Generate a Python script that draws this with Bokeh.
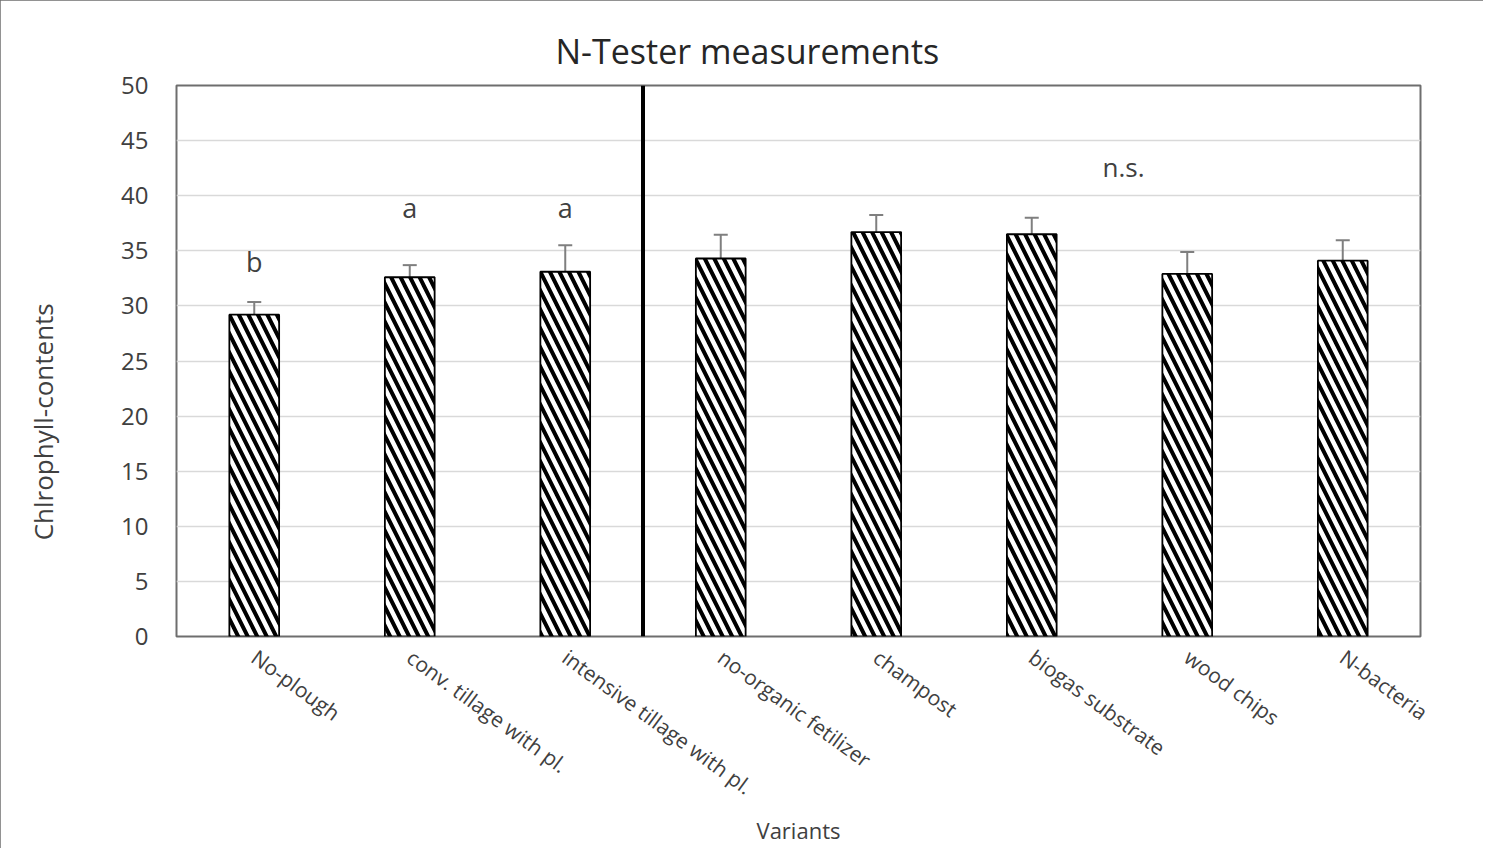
from bokeh.plotting import figure
from bokeh.models import (Range1d, FactorRange, Span, Label, ColumnDataSource,
                          Whisker, TeeHead, FixedTicker, Title)
from bokeh.embed import file_html
from bokeh.resources import INLINE
from bokeh.core.properties import value

# ---------------- data ----------------
categories = ["No-plough", "conv. tillage with pl.", "intensive tillage with pl.",
              "no-organic fetilizer", "champost", "biogas substrate",
              "wood chips", "N-bacteria"]
means = [29.2, 32.6, 33.1, 34.3, 36.7, 36.5, 32.9, 34.1]
errors = [1.15, 1.1, 2.4, 2.15, 1.55, 1.5, 2.0, 1.85]
letter_cats = ["No-plough", "conv. tillage with pl.", "intensive tillage with pl."]
letters = ["b", "a", "a"]
letter_y = [34.0, 38.9, 38.9]
ns_text = "n.s."
y_ticks = [0, 5, 10, 15, 20, 25, 30, 35, 40, 45, 50]

FONT = "Open Sans"
TXT = "#404040"

src = ColumnDataSource(dict(
    x=categories, top=means,
    upper=[m + e for m, e in zip(means, errors)],
    lower=[m - e for m, e in zip(means, errors)],
))

p = figure(width=1483, height=848, x_range=FactorRange(*categories, range_padding=0),
           y_range=Range1d(0, 50), output_backend="svg", toolbar_location=None,
           min_border_left=176, min_border_right=63, min_border_top=85,
           min_border_bottom=212)
p.styles = {"outline": "2px solid #6e6e6e", "outline-offset": "-2px"}

p.title = Title(text="N-Tester measurements", align="left", offset=379,
                text_font=FONT, text_font_size="34px", text_font_style="normal",
                text_color="#262626", standoff=23)

p.outline_line_color = "#6e6e6e"
p.outline_line_width = 2
p.xgrid.grid_line_color = None
p.ygrid.grid_line_color = "#d9d9d9"
p.ygrid.grid_line_width = 1.5

p.vbar(x="x", top="top", width=0.32, source=src, fill_color="white",
       line_color="black", line_width=1.8, hatch_pattern="\\",
       hatch_color="black", hatch_weight=4.0, hatch_scale=19)

wh = Whisker(base="x", upper="upper", lower="lower", source=src,
             line_color="#7f7f7f", line_width=2,
             upper_head=TeeHead(size=14, line_color="#7f7f7f", line_width=2),
             lower_head=None)
p.add_layout(wh)

p.add_layout(Span(location=3, dimension="height", line_color="black", line_width=4))

p.text(x=letter_cats, y=letter_y, text=letters, text_font=value(FONT),
       text_font_size="27px", text_color=TXT, text_align="center",
       text_baseline="middle")

p.add_layout(Label(x=6.09, y=42.6, text=ns_text, text_font=FONT,
                   text_font_size="26px", text_color=TXT, text_align="center",
                   text_baseline="middle"))

yax = p.yaxis[0]
yax.ticker = FixedTicker(ticks=y_ticks)
yax.axis_line_color = None
yax.major_tick_line_color = None
yax.minor_tick_line_color = None
yax.major_label_text_font = FONT
yax.major_label_text_font_size = "24px"
yax.major_label_text_color = TXT
yax.major_label_standoff = 22
# trailing no-break spaces push the (upward-reading) title below the frame centre
yax.axis_label = "Chlrophyll-contents" + "\u00a0" * 18
yax.axis_label_text_font = FONT
yax.axis_label_text_font_size = "26px"
yax.axis_label_text_font_style = "normal"
yax.axis_label_text_color = TXT
yax.axis_label_standoff = 57

xax = p.xaxis[0]
xax.axis_line_color = None
xax.major_tick_line_color = None
xax.minor_tick_line_color = None
xax.major_label_orientation = -0.63
xax.major_label_text_font = FONT
xax.major_label_text_font_size = "21px"
xax.major_label_text_color = TXT
xax.major_label_standoff = 12
xax.axis_label = "Variants"
xax.axis_label_text_font = FONT
xax.axis_label_text_font_size = "22px"
xax.axis_label_text_font_style = "normal"
xax.axis_label_text_color = TXT
xax.axis_label_standoff = 0

open("out.html", "w").write(file_html(p, INLINE))
